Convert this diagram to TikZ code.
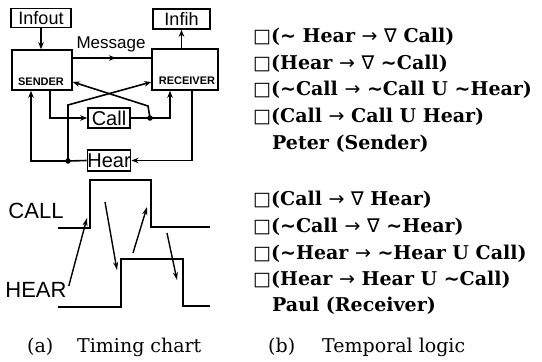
\documentclass[tikz,border=0pt]{standalone}
\usepackage{fontspec}
\setmainfont{DejaVu Serif}
\setsansfont{Liberation Sans}
\newfontfamily\symf{DejaVu Sans}
\usetikzlibrary{arrows.meta,decorations.markings}
\newcommand{\TLbox}{{\symf\mdseries\symbol{"25A1}}}
\newcommand{\TLnab}{{\symf\mdseries\symbol{"2207}}}
\newcommand{\TLto}{{\symf\mdseries\symbol{"2192}}}
\newcommand{\TLneg}{{\symf\symbol{"223C}}}
\tikzset{
  ln/.style={line width=1.6pt},
  arr/.style={ln,-{Stealth[length=7pt,width=5.5pt]}},
  tarr/.style={line width=1.4pt,-{Stealth[length=8pt,width=5pt]}},
  wave/.style={line width=1.8pt},
  blk/.style={draw,line width=1.6pt,inner sep=0pt,font=\sffamily\fontsize{18}{18}\selectfont},
  blkname/.style={font=\sffamily\bfseries\fontsize{11}{11}\selectfont,inner sep=0pt},
  jdot/.style={circle,fill,inner sep=0pt,minimum size=5.5pt},
  sig/.style={font=\sffamily\fontsize{22}{22}\selectfont,inner sep=0pt},
  form/.style={anchor=west,inner sep=0pt,font=\bfseries\fontsize{19}{19}\selectfont},
  capt/.style={anchor=west,inner sep=0pt,font=\fontsize{19}{19}\selectfont}
}
\begin{document}
\begin{tikzpicture}[x=1pt,y=-1pt]
\useasboundingbox (0,0) rectangle (542,362);
% blocks
\node[blk,minimum width=60pt,minimum height=19pt] (infout) at (41,18) {Infout};
\node[blk,minimum width=57pt,minimum height=20pt] (infih) at (181.5,19) {Infih};
\node[draw,ln,minimum width=60pt,minimum height=40pt,inner sep=0pt] (sender) at (42,70) {};
\node[draw,ln,minimum width=66pt,minimum height=41pt,inner sep=0pt] (receiver) at (185,69.5) {};
\node[blkname] (sendl) at (41,82) {SENDER};
\node[blkname] (recl) at (187,81) {RECEIVER};
\node[blk,minimum width=42pt,minimum height=20pt,font=\sffamily\fontsize{20}{20}\selectfont] (call) at (109,118) {Call};
\node[blk,minimum width=42pt,minimum height=21pt,font=\sffamily\fontsize{20}{20}\selectfont] (hear) at (109,160.5) {Hear};
\node[font=\sffamily\fontsize{17}{17}\selectfont,inner sep=0pt] (msgl) at (111,44) {Message};
\node[jdot] (d1) at (150,118) {};
\node[jdot] (d2) at (68,161) {};
\coordinate (msgy) at (0,58);
\coordinate (y82) at (0,82);
\coordinate (sx) at (50,0);
\coordinate (rx) at (170,0);
\coordinate (rx2) at (192,0);
\coordinate (lx) at (31,0);
\coordinate (k1) at (148,106);
\coordinate (k2) at (68,105);
% connectors
\draw[arr] (infout.south) -- (infout.south |- sender.north);
\draw[arr] (infih.south |- receiver.north) -- (infih.south);
\draw[ln,postaction={decorate},decoration={markings,mark=at position 0.55 with {\arrow{Stealth[length=7pt,width=5.5pt]}}}]
  (sender.east |- msgy) -- (receiver.west |- msgy);
\draw[arr] (sender.south -| sx) |- (call.west);
\draw[ln] (call.east) -- (d1.center);
\draw[arr] (d1.center) -| (receiver.south -| rx);
\draw[arr] (d1.center) -- (k1) -- (sender.east |- y82);
\draw[arr] (receiver.south -| rx2) |- (hear.east);
\draw[ln] (hear.west) -- (d2.center);
\draw[arr] (d2.center) -| (sender.south -| lx);
\draw[arr] (d2.center) -- (k2) -- (receiver.west |- y82);
% timing chart
\node[sig] (callsig) at (36,211) {CALL};
\node[sig] (hearsig) at (36,290) {HEAR};
\draw[wave] (58,228) -- (90,228) -- (90,180) -- (151,180) -- (151,227) -- (210,227);
\draw[wave] (58,307) -- (121,307) -- (121,259) -- (183,259) -- (183,306) -- (210,306);
\coordinate (t1) at (87,218);
\coordinate (t2a) at (105,202);
\coordinate (t2b) at (117,270);
\coordinate (t3a) at (133,253);
\coordinate (t3b) at (147,207);
\coordinate (t4a) at (167,233);
\coordinate (t4b) at (177,280);
\draw[tarr] ([xshift=2pt,yshift=4pt]hearsig.east) -- (t1);
\draw[tarr] (t2a) -- (t2b);
\draw[tarr] (t3a) -- (t3b);
\draw[tarr] (t4a) -- (t4b);
% formulas
\node[form] (f1) at (253,37) {\TLbox(\TLneg{} Hear \TLto{} \TLnab{} Call)};
\node[form] (f2) at (253,64) {\TLbox(Hear \TLto{} \TLnab{} \TLneg Call)};
\node[form] (f3) at (253,90) {\TLbox(\TLneg Call \TLto{} \TLneg Call U \TLneg Hear)};
\node[form] (f4) at (253,117) {\TLbox(Call \TLto{} Call U Hear)};
\node[form] (f5) at (272,144) {Peter (Sender)};
\node[form] (g1) at (253,200) {\TLbox(Call \TLto{} \TLnab{} Hear)};
\node[form] (g2) at (253,227) {\TLbox(\TLneg Call \TLto{} \TLnab{} \TLneg Hear)};
\node[form] (g3) at (253,254) {\TLbox(\TLneg Hear \TLto{} \TLneg Hear U Call)};
\node[form] (g4) at (253,280) {\TLbox(Hear \TLto{} Hear U \TLneg Call)};
\node[form] (g5) at (272,306) {Paul (Receiver)};
% captions
\node[capt] (ca) at (27,347) {(a)};
\node[capt] (cat) at (77,347) {Timing chart};
\node[capt] (cb) at (268,347) {(b)};
\node[capt] (cbt) at (322,347) {Temporal logic};
\end{tikzpicture}
\end{document}
